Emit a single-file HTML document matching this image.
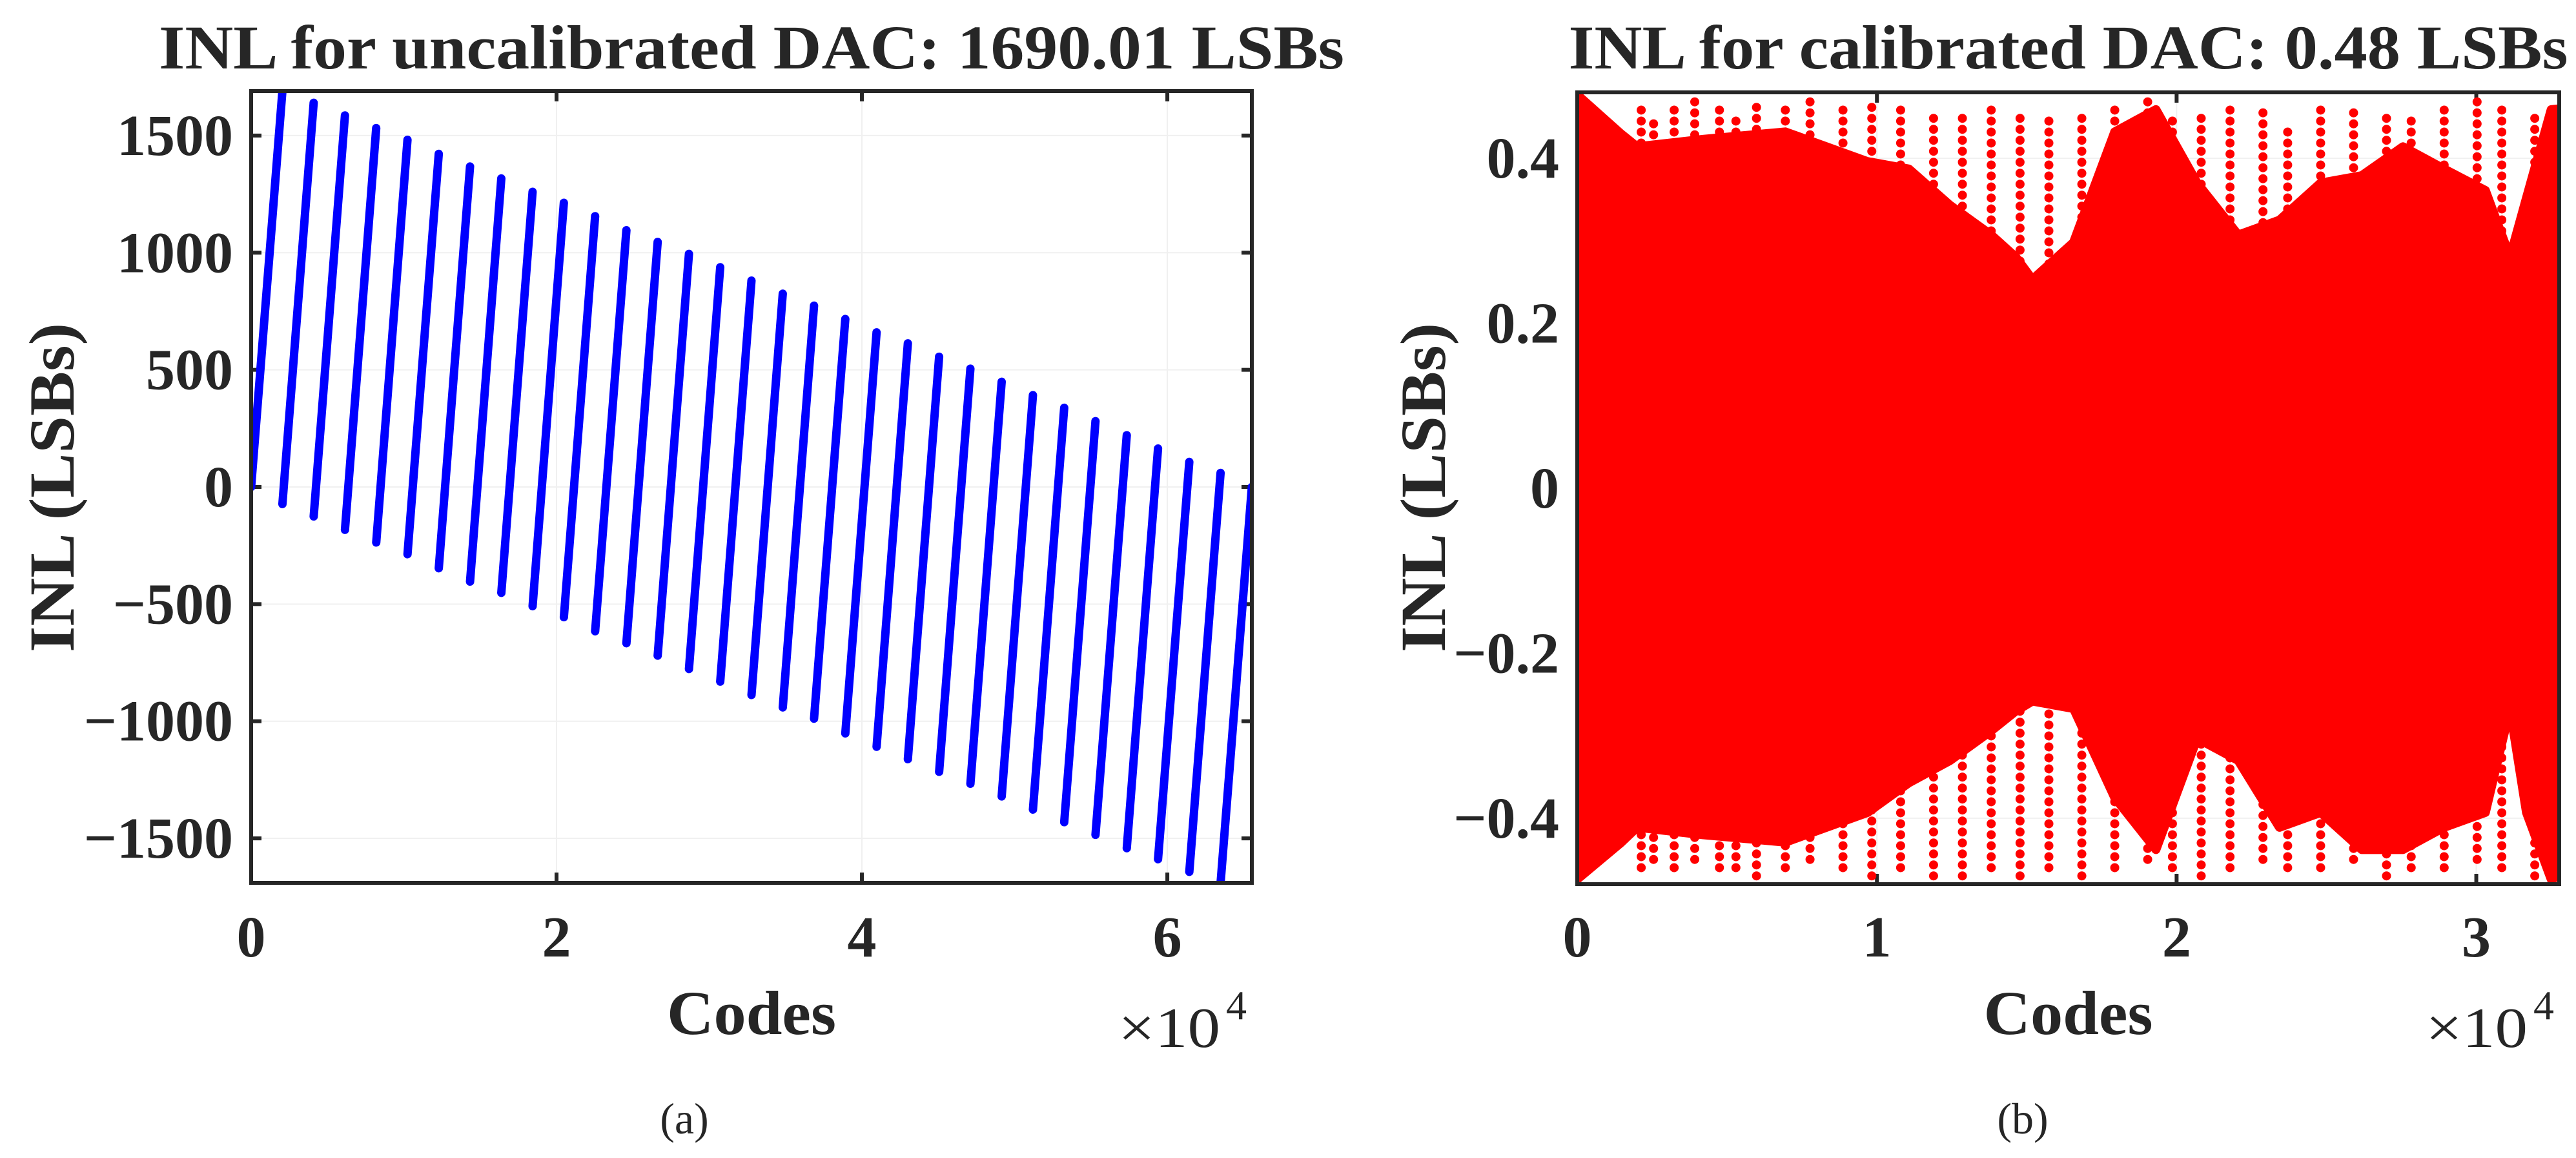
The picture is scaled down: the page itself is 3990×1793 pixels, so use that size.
<!DOCTYPE html>
<html><head><meta charset="utf-8"><style>
html,body{margin:0;padding:0;background:#fff}
svg{display:block}
text{font-family:"Liberation Serif",serif;fill:#262626}
</style></head><body>
<svg id="fig" width="3990" height="1793" viewBox="0 0 3990 1793" xmlns="http://www.w3.org/2000/svg">
<g id="ga"></g>
<g id="gb"></g>
</svg>
<script>
// ---- Chart (a) data: segment tops/bottoms (LSBs), 32 segments of 2048 codes
const segLen = 2048;
const segBottoms = [0,-73,-126,-183,-237,-287,-347,-404,-452,-509,-556,-616,-667,-720,-777,-831,-888,-941,-989,-1052,-1109,-1162,-1216,-1267,-1321,-1377,-1431,-1485,-1542,-1589,-1643,-1690];
const segTops = [1690,1640,1586,1532,1482,1422,1368,1317,1260,1213,1156,1096,1046,995,938,881,825,774,717,660,613,556,505,449,392,338,281,221,164,107,60,0];
const aYTicks = [-1500,-1000,-500,0,500,1000,1500];
const aXTicks = [0,2,4,6];
// ---- Chart (b) data: dense core envelope + dotted columns
const envCodes = [0,1448,1998,4196,6944,9690,11066,12440,13814,14638,15188,16562,17936,19310,20684,22058,23432,24806,26180,27554,28928,30302,31126,31676,32500,32767];
const envUpper = [0.477,0.43,0.414,0.423,0.432,0.396,0.387,0.343,0.307,0.28,0.253,0.298,0.432,0.459,0.37,0.307,0.325,0.37,0.379,0.414,0.387,0.361,0.28,0.352,0.459,0.46];
const envLower = [-0.474,-0.43,-0.411,-0.42,-0.429,-0.393,-0.357,-0.33,-0.294,-0.27,-0.258,-0.267,-0.375,-0.438,-0.303,-0.33,-0.411,-0.393,-0.438,-0.438,-0.411,-0.393,-0.267,-0.393,-0.474,-0.47];
const colCodes = [2135,2547,3234,3921,4745,5295,5982,6944,7768,8867,9829,10791,11890,12852,13814,14776,15738,16837,17936,19035,19860,20821,21783,22882,23706,24806,25905,27004,27828,28928,30027,30852,31951];
const colTop = [0.46,0.45,0.46,0.47,0.46,0.45,0.47,0.46,0.47,0.46,0.47,0.47,0.46,0.46,0.47,0.46,0.45,0.46,0.46,0.47,0.45,0.46,0.46,0.46,0.44,0.47,0.46,0.46,0.45,0.46,0.47,0.46,0.46];
const colBottom = [-0.46,-0.45,-0.46,-0.45,-0.46,-0.46,-0.47,-0.46,-0.45,-0.46,-0.47,-0.46,-0.47,-0.47,-0.46,-0.47,-0.46,-0.47,-0.46,-0.45,-0.46,-0.47,-0.46,-0.45,-0.46,-0.46,-0.45,-0.47,-0.46,-0.46,-0.45,-0.46,-0.47];
const bYTicks = [-0.4,-0.2,0,0.2,0.4];
const bXTicks = [0,1,2,3];

const NS="http://www.w3.org/2000/svg";
function mk(parent,tag,attrs,txt){const e=document.createElementNS(NS,tag);for(const k in attrs)e.setAttribute(k,attrs[k]);if(txt!==undefined)e.textContent=txt;parent.appendChild(e);return e;}

function axes(g,L,R,T,B,xmax,ymin,ymax,xt,yt,fmtY,labRight,title,titleW,ylabX,sub,subX){
  const sx=v=>L+(v/xmax)*(R-L), sy=v=>B-(v-ymin)/(ymax-ymin)*(B-T);
  for(const t of xt){const l=mk(g,'line',{x1:sx(t*1e4),x2:sx(t*1e4),y1:T,y2:B,stroke:'#f0f0f0','stroke-width':2});
    
    }
  for(const t of yt){const l=mk(g,'line',{x1:L,x2:R,y1:sy(t),y2:sy(t),stroke:'#f0f0f0','stroke-width':2});
    
    }
  const ticks=[];
  for(const t of xt){const x=sx(t*1e4);
    const tl=mk(g,'text',{x:x,y:1481,'font-size':90,'font-weight':'bold','text-anchor':'middle'},String(t));
    
    
    ticks.push(['M',x,B,'V',B-16,'M',x,T,'V',T+16].join(' '));}
  for(const t of yt){const y=sy(t);
    const s=(t<0?'\u2212':'')+fmtY(Math.abs(t));
    const tl=mk(g,'text',{x:labRight,y:y+30,'font-size':90,'font-weight':'bold','text-anchor':'end'},s);
    
    
    ticks.push(['M',L,y,'H',L+16,'M',R,y,'H',R-16].join(' '));}
  const tk=mk(g,'path',{d:ticks.join(' '),stroke:'#262626','stroke-width':6,fill:'none'});
  
  
  const cx=(L+R)/2;
  const ti=mk(g,'text',{x:cx,y:106,'font-size':96,'font-weight':'bold','text-anchor':'middle',textLength:titleW,lengthAdjust:'spacingAndGlyphs'},title);
  
  
  const yl=mk(g,'text',{x:0,y:0,'font-size':100,'font-weight':'bold','text-anchor':'middle',textLength:510,lengthAdjust:'spacingAndGlyphs',transform:`translate(${ylabX},755) rotate(-90)`},'INL (LSBs)');
  
  
  const xl=mk(g,'text',{x:cx,y:1601,'font-size':96,'font-weight':'bold','text-anchor':'middle',textLength:262,lengthAdjust:'spacingAndGlyphs'},'Codes');
  
  
  const ex=mk(g,'text',{x:R-207,y:1621,'font-size':88,textLength:158,lengthAdjust:'spacingAndGlyphs'},'\u00d710');
  
  
  const e4=mk(g,'text',{x:R-40,y:1578,'font-size':64},'4');
  
  
  const sb=mk(g,'text',{x:subX,y:1755,'font-size':68,'text-anchor':'middle'},sub);
  
  
}

// Chart a
(function(){
  const g=document.getElementById('ga');
  const L=389,R=1939,T=141,B=1367,xmax=65535;
  const sx=v=>L+(v/xmax)*(R-L), sy=v=>B-(v+1690)/3380*(B-T);
  const gridg=mk(g,'g',{});
  axes(gridg,L,R,T,B,xmax,-1690,1690,aXTicks,aYTicks,v=>String(v),361,'INL for uncalibrated DAC: 1690.01 LSBs',1836,114,'(a)',1060);
  const cp=mk(g,'clipPath',{id:'clipa'});mk(cp,'rect',{x:L,y:T,width:R-L,height:B-T});
  const lg=mk(g,'g',{'clip-path':'url(#clipa)'});
  for(let i=0;i<segTops.length;i++){
    const x0=sx(i*segLen), x1=sx((i+1)*segLen-1);
    const l=mk(lg,'line',{x1:x0,y1:sy(segBottoms[i]),x2:x1,y2:sy(segTops[i]),stroke:'#0000ff','stroke-width':13,'stroke-linecap':'round'});
    
    
  }
  const box=mk(g,'rect',{x:L,y:T,width:R-L,height:B-T,fill:'none',stroke:'#262626','stroke-width':6});
  
  
})();

// Chart b
(function(){
  const g=document.getElementById('gb');
  const L=2443,R=3964,T=143,B=1369,xmax=32767;
  const sx=v=>L+(v/xmax)*(R-L), sy=v=>B-(v+0.48)/0.96*(B-T);
  const gridg=mk(g,'g',{});
  axes(gridg,L,R,T,B,xmax,-0.48,0.48,bXTicks,bYTicks,v=>v===0?'0':v.toFixed(1),2415,'INL for calibrated DAC: 0.48 LSBs',1548,2238,'(b)',3133);
  const cp=mk(g,'clipPath',{id:'clipb'});mk(cp,'rect',{x:L,y:T,width:R-L,height:B-T});
  const dg=mk(g,'g',{'clip-path':'url(#clipb)'});
  let d='M'+sx(envCodes[0])+' '+sy(envUpper[0]);
  for(let i=1;i<envCodes.length;i++)d+=' L'+sx(envCodes[i])+' '+sy(envUpper[i]);
  for(let i=envCodes.length-1;i>=0;i--)d+=' L'+sx(envCodes[i])+' '+sy(envLower[i]);
  d+='Z';
  const core=mk(dg,'path',{d:d,fill:'#ff0000',stroke:'#ff0000','stroke-width':14,'stroke-linejoin':'round'});
  
  
  for(let i=0;i<colCodes.length;i++){
    const x=sx(colCodes[i]);
    const c=mk(dg,'line',{x1:x,x2:x,y1:sy(colBottom[i]),y2:sy(colTop[i]),stroke:'#ff0000','stroke-width':14,'stroke-linecap':'round','stroke-dasharray':'0 17'});
    
    
  }
  const box=mk(g,'rect',{x:L,y:T,width:R-L,height:B-T,fill:'none',stroke:'#262626','stroke-width':6});
  
  
})();
</script>
</body></html>
